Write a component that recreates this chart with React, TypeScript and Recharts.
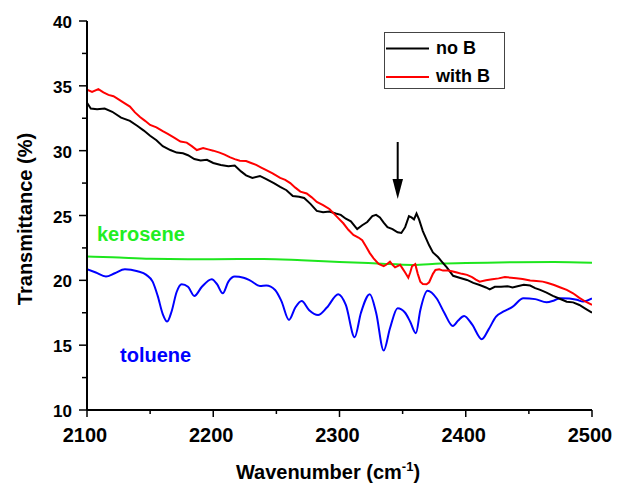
import { LineChart, Line, XAxis, YAxis } from "recharts";

const noBWn = [
  2100, 2103, 2108, 2114, 2120, 2127, 2134, 2140, 2145, 2150, 2155, 2160, 2166, 2171, 2176, 2180, 2185, 2190,
  2195, 2200, 2206, 2212, 2217, 2222, 2226, 2231, 2237, 2242, 2248, 2253, 2258, 2263, 2268, 2272, 2277, 2282,
  2287, 2292, 2297, 2301, 2305, 2309, 2314, 2318, 2322, 2326, 2329, 2332, 2335, 2338, 2342, 2346, 2349, 2352,
  2355, 2357, 2359, 2361, 2363, 2366, 2368, 2371, 2374, 2378, 2381, 2385, 2390, 2395, 2401, 2406, 2411, 2416,
  2419, 2423, 2428, 2433, 2437, 2441, 2446, 2451, 2455, 2459, 2464, 2469, 2474, 2480, 2485, 2490, 2495, 2500,
];
const noBVal = [
  33.7, 33.25, 33.2, 33.25, 33.0, 32.55, 32.3, 31.9, 31.55, 31.15, 30.8, 30.35, 30.05, 29.85, 29.8, 29.65, 29.35, 29.25,
  29.3, 29.05, 28.9, 28.8, 28.85, 28.4, 28.1, 27.9, 28.05, 27.8, 27.5, 27.2, 26.95, 26.5, 26.45, 26.35, 25.9, 25.35,
  25.25, 25.3, 25.15, 25.05, 24.75, 24.55, 23.95, 24.25, 24.5, 24.95, 25.05, 24.85, 24.45, 24.1, 23.95, 23.7, 23.65, 24.1,
  24.95, 24.85, 24.7, 25.15, 24.7, 23.8, 23.35, 22.7, 22.15, 21.8, 21.45, 21.0, 20.35, 20.2, 20.03, 19.8, 19.64, 19.45,
  19.3, 19.5, 19.5, 19.55, 19.45, 19.55, 19.65, 19.6, 19.4, 19.26, 19.05, 18.8, 18.6, 18.35, 18.3, 18.1, 17.8, 17.5,
];

const withBWn = [
  2100, 2104, 2109, 2113, 2117, 2121, 2125, 2129, 2134, 2138, 2142, 2146, 2150, 2155, 2160, 2164, 2169, 2174,
  2179, 2183, 2187, 2192, 2196, 2200, 2205, 2209, 2213, 2217, 2221, 2226, 2230, 2234, 2238, 2242, 2247, 2253,
  2257, 2261, 2265, 2269, 2274, 2278, 2282, 2287, 2292, 2295, 2299, 2303, 2307, 2311, 2315, 2318, 2321, 2324,
  2327, 2331, 2335, 2337, 2340, 2342, 2344, 2346, 2348, 2350, 2352, 2354.5, 2356, 2357.5, 2360, 2362, 2364, 2366,
  2369, 2371, 2374, 2376, 2379, 2382, 2386, 2389, 2393, 2397, 2401, 2405, 2408, 2411, 2416, 2421, 2426, 2431,
  2436, 2440, 2445, 2451, 2456, 2461, 2465, 2470, 2475, 2480, 2485, 2490, 2495, 2500,
];
const withBVal = [
  34.7, 34.53, 34.75, 34.5, 34.3, 34.2, 33.95, 33.7, 33.4, 32.95, 32.6, 32.3, 31.98, 31.8, 31.5, 31.29, 31.0, 30.7,
  30.62, 30.35, 30.05, 30.2, 30.1, 30.0, 29.85, 29.7, 29.5, 29.35, 29.23, 29.2, 29.05, 28.9, 28.7, 28.5, 28.25, 27.9,
  27.75, 27.5, 27.15, 26.84, 26.7, 26.4, 26.05, 25.8, 25.5, 25.2, 24.8, 24.4, 23.9, 23.5, 23.3, 23.1, 22.6, 22.1,
  21.7, 21.26, 21.1, 21.2, 21.44, 21.2, 21.0, 21.1, 21.2, 20.9, 20.6, 20.2, 20.6, 21.1, 21.25, 20.5, 19.9, 19.72,
  19.7, 19.85, 20.5, 20.8, 20.85, 20.75, 20.75, 20.7, 20.6, 20.5, 20.42, 20.25, 20.05, 19.9, 20.0, 20.08, 20.15, 20.25,
  20.2, 20.16, 20.1, 19.98, 19.95, 19.9, 19.8, 19.64, 19.45, 19.26, 19.0, 18.65, 18.35, 18.1,
];

const keroseneWn = [2100, 2120, 2150, 2180, 2200, 2240, 2270, 2300, 2330, 2358, 2380, 2400, 2440, 2470, 2500];
const keroseneVal = [21.83, 21.78, 21.66, 21.63, 21.63, 21.65, 21.55, 21.42, 21.3, 21.19, 21.3, 21.33, 21.4, 21.42, 21.35];

const tolueneWn = [
  2100, 2107, 2115, 2122, 2130, 2140, 2147, 2152, 2156, 2160, 2163.5, 2167, 2171, 2175, 2180, 2185, 2191, 2198.8,
  2203, 2207.5, 2212, 2217, 2224, 2229, 2237, 2242, 2249, 2254, 2260, 2265, 2270, 2276, 2283, 2290, 2299, 2305,
  2312, 2317, 2324, 2329, 2335, 2340, 2346, 2352, 2356, 2360.5, 2364, 2369.7, 2377, 2383, 2389.8, 2394, 2398.7, 2405,
  2412.7, 2418, 2424, 2430, 2437, 2445.7, 2455, 2464, 2470, 2475, 2482, 2488, 2493, 2500,
];
const tolueneVal = [
  20.86, 20.6, 20.29, 20.55, 20.86, 20.7, 20.42, 19.9, 18.8, 17.4, 16.82, 17.6, 19.1, 19.7, 19.5, 18.8, 19.5, 20.08,
  19.7, 19.0, 19.9, 20.29, 20.2, 20.0, 19.57, 19.6, 19.26, 18.4, 16.95, 17.9, 18.41, 17.7, 17.33, 17.9, 18.93, 18.1,
  15.61, 17.5, 18.93, 17.5, 14.58, 16.3, 17.85, 17.5, 16.8, 15.92, 17.7, 19.2, 18.6, 17.5, 16.48, 16.9, 17.25, 16.6,
  15.46, 16.2, 17.2, 17.6, 17.95, 18.62, 18.55, 18.31, 18.45, 18.62, 18.6, 18.5, 18.36, 18.6,
];

const xTicks = [2100, 2150, 2200, 2250, 2300, 2350, 2400, 2450, 2500];
const yTicks = [10, 12.5, 15, 17.5, 20, 22.5, 25, 27.5, 30, 32.5, 35, 37.5, 40];

const toRows = (wn: number[], val: number[]) => wn.map((x, i) => ({ x, y: val[i] }));

const font = "'Liberation Sans', Arial, sans-serif";

function XTick({ x, y, payload }: any) {
  const major = payload.value % 100 === 0;
  return (
    <g>
      <line x1={x} x2={x} y1={y} y2={y + (major ? 7 : 4)} stroke="#000" strokeWidth={1.5} />
      {major && (
        <text x={x - 2} y={y + 32} textAnchor="middle" fontSize={20} fontWeight="bold" fontFamily={font} fill="#000">
          {payload.value}
        </text>
      )}
    </g>
  );
}

function YTick({ x, y, payload }: any) {
  const major = payload.value % 5 === 0;
  return (
    <g>
      <line x1={x} x2={x - (major ? 8 : 5)} y1={y} y2={y} stroke="#000" strokeWidth={1.5} />
      {major && (
        <text x={x - 15} y={y + 7} textAnchor="end" fontSize={17} fontWeight="bold" fontFamily={font} fill="#000">
          {payload.value}
        </text>
      )}
    </g>
  );
}

export default function App() {
  return (
    <div style={{ position: "absolute", left: 0, top: 0, width: 628, height: 487, background: "#fff", fontFamily: font }}>
      <LineChart width={628} height={487} margin={{ top: 21, right: 36, bottom: 37, left: 27 }}>
        <XAxis
          type="number"
          dataKey="x"
          domain={[2100, 2500]}
          ticks={xTicks}
          interval={0}
          allowDataOverflow
          height={40}
          tickSize={0}
          tickMargin={0}
          tickLine={false}
          tick={<XTick />}
          axisLine={{ stroke: "#000", strokeWidth: 2 }}
        />
        <YAxis
          type="number"
          dataKey="y"
          domain={[10, 40]}
          ticks={yTicks}
          interval={0}
          allowDataOverflow
          width={60}
          tickSize={0}
          tickMargin={0}
          tickLine={false}
          tick={<YTick />}
          axisLine={{ stroke: "#000", strokeWidth: 2 }}
        />
        <Line data={toRows(keroseneWn, keroseneVal)} dataKey="y" type="monotone" stroke="#1ee61e" strokeWidth={2} dot={false} isAnimationActive={false} />
        <Line data={toRows(tolueneWn, tolueneVal)} dataKey="y" type="monotone" stroke="#0000ff" strokeWidth={2} dot={false} isAnimationActive={false} />
        <Line data={toRows(noBWn, noBVal)} dataKey="y" type="linear" stroke="#000000" strokeWidth={2} dot={false} isAnimationActive={false} />
        <Line data={toRows(withBWn, withBVal)} dataKey="y" type="linear" stroke="#ff0000" strokeWidth={2} dot={false} isAnimationActive={false} />
      </LineChart>

      {/* axis titles */}
      <div
        style={{
          position: "absolute",
          left: 25,
          top: 219,
          transform: "translate(-50%, -50%) rotate(-90deg)",
          whiteSpace: "nowrap",
          fontSize: 20,
          fontWeight: "bold",
          lineHeight: "20px",
        }}
      >
        Transmittance (%)
      </div>
      <div
        style={{
          position: "absolute",
          left: 328,
          top: 461,
          transform: "translateX(-50%)",
          whiteSpace: "nowrap",
          fontSize: 20,
          fontWeight: "bold",
          lineHeight: "22px",
        }}
      >
        Wavenumber (cm<sup style={{ fontSize: 13, lineHeight: 0 }}>-1</sup>)
      </div>

      {/* series annotations */}
      <div style={{ position: "absolute", left: 97, top: 222, fontSize: 20, fontWeight: "bold", color: "#22ee22", lineHeight: "24px" }}>
        kerosene
      </div>
      <div style={{ position: "absolute", left: 120, top: 343, fontSize: 20, fontWeight: "bold", color: "#0000ff", lineHeight: "24px" }}>
        toluene
      </div>

      {/* legend */}
      <div
        style={{
          position: "absolute",
          left: 384,
          top: 32,
          width: 119,
          height: 55,
          border: "1px solid #444",
          background: "#fff",
        }}
      >
        <svg width={50} height={55} style={{ position: "absolute", left: 0, top: 0 }}>
          <line x1={1} x2={44} y1={15.5} y2={15.5} stroke="#000" strokeWidth={2} />
          <line x1={1} x2={44} y1={44} y2={44} stroke="#ff0000" strokeWidth={2} />
        </svg>
        <div style={{ position: "absolute", left: 51, top: 5, fontSize: 18, fontWeight: "bold", lineHeight: "20px" }}>no B</div>
        <div style={{ position: "absolute", left: 51, top: 33, fontSize: 18, fontWeight: "bold", lineHeight: "20px" }}>with B</div>
      </div>

      {/* arrow */}
      <svg width={20} height={70} style={{ position: "absolute", left: 388, top: 138 }}>
        <line x1={9.7} x2={9.7} y1={4} y2={44} stroke="#000" strokeWidth={2} />
        <polygon points="4.5,41 15,41 9.7,61" fill="#000" />
      </svg>
    </div>
  );
}
